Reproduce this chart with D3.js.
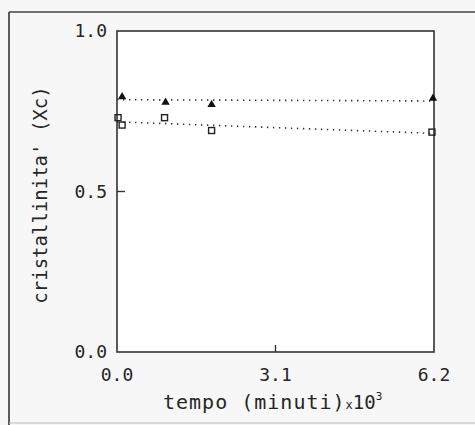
<!DOCTYPE html>
<html>
<head>
<meta charset="utf-8">
<script src="https://cdn.jsdelivr.net/npm/d3@7"></script>
<style>
  html, body { margin: 0; padding: 0; background: #f7f7f7; }
  svg { display: block; }
  text { fill: #262626; }
</style>
</head>
<body>
<div id="chart"></div>
<script>
// dati
const xTicks = [0.0, 3.1, 6.2];
const yTicks = [0.0, 0.5, 1.0];

const triX = [0.1, 0.95, 1.85, 6.18];
const triY = [0.795, 0.778, 0.771, 0.79];

const sqX = [0.02, 0.1, 0.93, 1.85, 6.16];
const sqY = [0.73, 0.707, 0.73, 0.69, 0.685];

// rette di regressione (estremi)
const triFitX = [0.0, 6.2];
const triFitY = [0.786, 0.782];
const sqFitX = [0.0, 6.2];
const sqFitY = [0.717, 0.681];

const width = 475, height = 425;
const margin = { left: 117, right: 41, top: 31, bottom: 73 };
const plotW = width - margin.left - margin.right;
const plotH = height - margin.top - margin.bottom;

const svg = d3.select('#chart')
    .append('svg')
    .attr('width', width)
    .attr('height', height);

// cornice esterna (scansione)
svg.append('line').attr('x1', 9).attr('y1', 12).attr('x2', 9).attr('y2', 425)
    .attr('stroke', '#333').attr('stroke-width', 1.6);
svg.append('line').attr('x1', 9).attr('y1', 12).attr('x2', 475).attr('y2', 12)
    .attr('stroke', '#444').attr('stroke-width', 1.6);
svg.append('line').attr('x1', 9).attr('y1', 423).attr('x2', 475).attr('y2', 423)
    .attr('stroke', '#bbb').attr('stroke-width', 1);

const g = svg.append('g')
    .attr('transform', `translate(${margin.left},${margin.top})`);

const x = d3.scaleLinear().domain([0, 6.2]).range([0, plotW]);
const y = d3.scaleLinear().domain([0, 1.0]).range([plotH, 0]);

// area del grafico
g.append('rect')
    .attr('width', plotW).attr('height', plotH)
    .attr('fill', '#fff')
    .attr('stroke', '#333').attr('stroke-width', 1.6);

// tacche interne
g.selectAll('.ytick')
    .data(yTicks.filter(d => d > 0 && d < 1))
    .enter().append('line')
    .attr('x1', 0).attr('x2', 8)
    .attr('y1', d => y(d)).attr('y2', d => y(d))
    .attr('stroke', '#333').attr('stroke-width', 1.4);

g.selectAll('.xtick')
    .data(xTicks.filter(d => d > 0 && d < 6.2))
    .enter().append('line')
    .attr('x1', d => x(d)).attr('x2', d => x(d))
    .attr('y1', plotH).attr('y2', plotH - 7)
    .attr('stroke', '#333').attr('stroke-width', 1.4);

// etichette delle tacche
g.selectAll('.ylab')
    .data(yTicks)
    .enter().append('text')
    .attr('x', -10)
    .attr('y', d => y(d))
    .attr('dy', '0.36em')
    .attr('text-anchor', 'end')
    .style('font-family', 'DejaVu Sans Mono')
    .style('font-size', '18px')
    .text(d => d.toFixed(1));

g.selectAll('.xlab')
    .data(xTicks)
    .enter().append('text')
    .attr('x', d => x(d))
    .attr('y', plotH + 29)
    .attr('text-anchor', 'middle')
    .style('font-family', 'DejaVu Sans Mono')
    .style('font-size', '18px')
    .text(d => d.toFixed(1));

// titoli degli assi
const xt = svg.append('text')
    .attr('x', 163)
    .attr('y', 409)
    .style('font-family', 'DejaVu Sans Mono')
    .style('font-size', '20px')
    .style('letter-spacing', '1px');
xt.append('tspan').text('tempo (minuti)');
xt.append('tspan').style('font-size', '12px').style('letter-spacing', '0px').text('x');
xt.append('tspan').style('font-size', '19px').style('letter-spacing', '0px').text('10');
xt.append('tspan').attr('dy', -9).style('font-size', '11px').style('letter-spacing', '0px').text('3');

svg.append('text')
    .attr('transform', 'translate(47,195) rotate(-90)')
    .attr('text-anchor', 'middle')
    .style('font-family', 'DejaVu Sans Mono')
    .style('font-size', '19px')
    .text("cristallinita' (Xc)");

// rette tratteggiate
const line = d3.line().x(d => x(d[0])).y(d => y(d[1]));
[[triFitX, triFitY], [sqFitX, sqFitY]].forEach(([fx, fy]) => {
    g.append('path')
        .datum(fx.map((v, i) => [v, fy[i]]))
        .attr('d', line)
        .attr('fill', 'none')
        .attr('stroke', '#333')
        .attr('stroke-width', 1.6)
        .attr('stroke-dasharray', '1.4,4.6');
});

// triangoli pieni
g.selectAll('.tri')
    .data(triX.map((v, i) => [v, triY[i]]))
    .enter().append('path')
    .attr('transform', d => `translate(${x(d[0])},${y(d[1])})`)
    .attr('d', d3.symbol().type(d3.symbolTriangle).size(30))
    .attr('fill', '#111');

// quadrati vuoti
g.selectAll('.sq')
    .data(sqX.map((v, i) => [v, sqY[i]]))
    .enter().append('rect')
    .attr('x', d => x(d[0]) - 3)
    .attr('y', d => y(d[1]) - 3)
    .attr('width', 6).attr('height', 6)
    .attr('fill', 'none')
    .attr('stroke', '#222')
    .attr('stroke-width', 1.4);
</script>
</body>
</html>
